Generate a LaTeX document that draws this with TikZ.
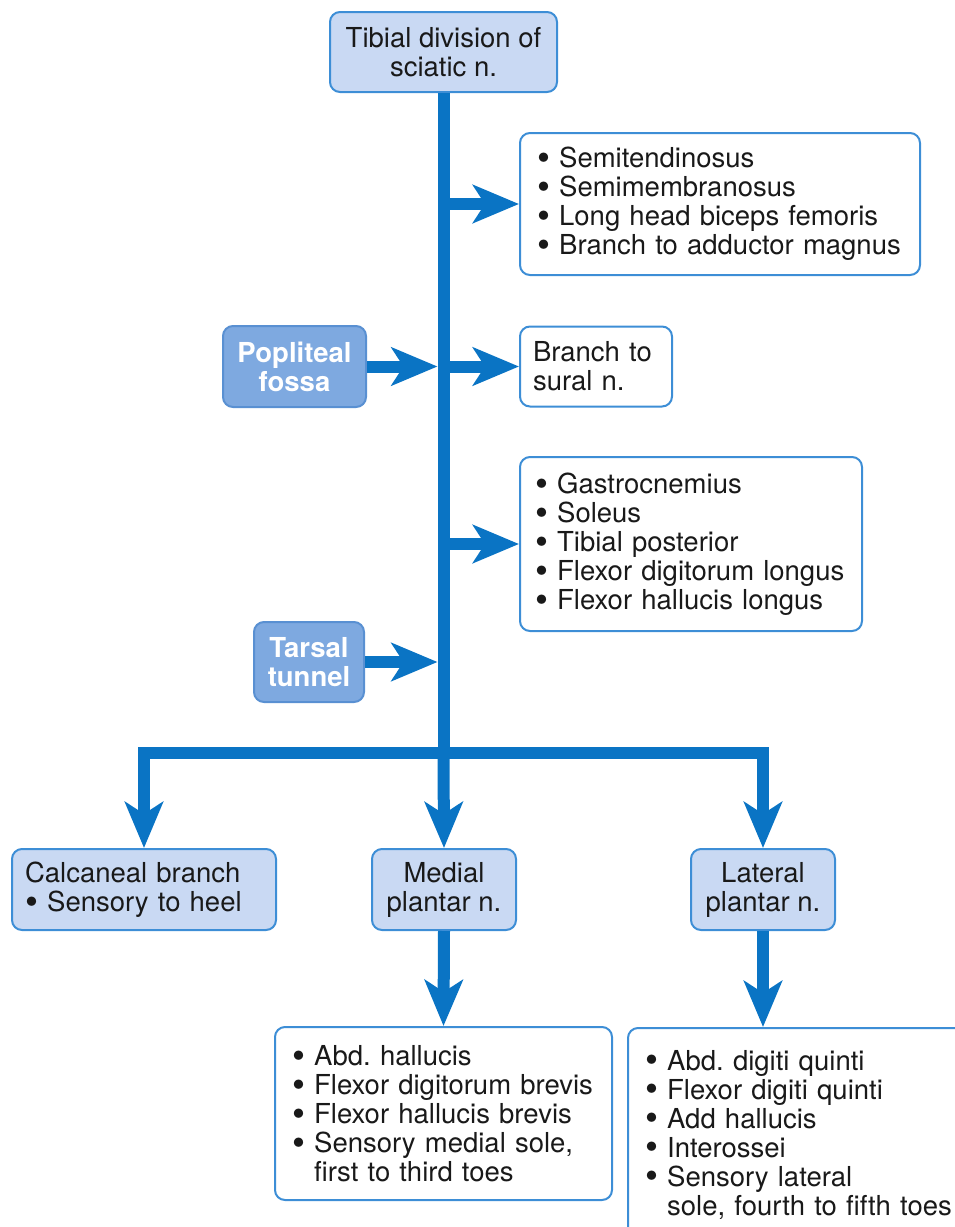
\documentclass[tikz,border=0pt]{standalone}
\usepackage{fontspec}
\setmainfont{TeX Gyre Heros}
\usetikzlibrary{arrows.meta}
\definecolor{nerve}{HTML}{0A74C4}
\definecolor{bordblue}{HTML}{3D8ED6}
\definecolor{lightfill}{HTML}{C9D9F3}
\definecolor{popfill}{HTML}{7EA9E0}
\definecolor{popborder}{HTML}{5990D2}
\newcommand\bl{\raisebox{-0.1em}[0pt][0pt]{\scalebox{1.35}{•}}\ }
\begin{document}
\frenchspacing
\begin{tikzpicture}[x=1pt,y=-1pt,
  every node/.style={font=\fontsize{27.5}{29}\selectfont\frenchspacing, text=black!90},
  arr/.style={draw=nerve, line width=12pt, line join=miter, -{Stealth[length=46pt,width=38pt,inset=12pt]}},
  trunkline/.style={draw=nerve, line width=12pt},
  boxbase/.style={line width=2pt, rounded corners=10pt, inner sep=0pt},
  lightbox/.style={boxbase, draw=bordblue, fill=lightfill, align=center},
  darkbox/.style={boxbase, draw=popborder, fill=popfill, align=center, text=white, font=\fontsize{27.5}{29}\selectfont\bfseries},
  listbox/.style={boxbase, draw=bordblue, fill=white, align=left},
]
\useasboundingbox (0,0) rectangle (955,1227);
\clip (0,0) rectangle (955,1227);

% nodes
\node[lightbox, minimum width=227pt, minimum height=80pt] (top) at (443.5,52) {Tibial division of\\sciatic n.};
\node[listbox, minimum width=400pt, minimum height=142pt, text width=366pt, inner xsep=17pt] (b1) at (720,204)
  {\bl Semitendinosus\\\bl Semimembranosus\\\bl Long head biceps femoris\\\bl Branch to adductor magnus};
\node[darkbox, minimum width=143pt, minimum height=81pt] (pop) at (294.5,366.5) {Popliteal\\fossa};
\node[listbox, minimum width=152pt, minimum height=80pt, text width=126pt, inner xsep=13pt] (sural) at (596,366.5) {Branch to\\sural n.};
\node[listbox, minimum width=342pt, minimum height=174pt, text width=312pt, inner xsep=15pt] (b3) at (691,544)
  {\bl Gastrocnemius\\\bl Soleus\\\bl Tibial posterior\\\bl Flexor digitorum longus\\\bl Flexor hallucis longus};
\node[darkbox, minimum width=110pt, minimum height=80pt] (tars) at (309,662) {Tarsal\\tunnel};
\node[lightbox, minimum width=264pt, minimum height=81pt, align=left, text width=238pt, inner xsep=13pt] (cal) at (144,889.5) {Calcaneal branch\\\bl Sensory to heel};
\node[lightbox, minimum width=144pt, minimum height=81pt] (med) at (444,889.5) {Medial\\plantar n.};
\node[lightbox, minimum width=144pt, minimum height=81pt] (lat) at (763,889.5) {Lateral\\plantar n.};
\node[listbox, minimum width=337pt, minimum height=173pt, text width=303pt, inner xsep=17pt] (mlist) at (443.5,1113.5)
  {\bl Abd. hallucis\\\bl Flexor digitorum brevis\\\bl Flexor hallucis brevis\\\bl Sensory medial sole,\\\hphantom{\bl}first to third toes};
\node[listbox, anchor=north west, minimum width=360pt, minimum height=213pt, text width=326pt, inner xsep=17pt] (llist) at (627,1027)
  {\bl Abd. digiti quinti\\\bl Flexor digiti quinti\\\bl Add hallucis\\\bl Interossei\\\bl Sensory lateral\\\hphantom{\bl}sole, fourth to fifth toes};

% junction coordinates
\coordinate (jB) at (top.south |- 0,753);
\coordinate (pj) at (pop.east -| top.south);
\coordinate (tj) at (tars.east -| top.south);

% connectors
\draw[trunkline] (top.south) -- (jB);
\draw[arr] (jB) -- (med.north);
\draw[arr] (top.south |- b1.west) -- (b1.west);
\draw[arr] (pop.east) -- ([xshift=-6pt]pj);
\draw[arr] (top.south |- sural.west) -- (sural.west);
\draw[arr] (top.south |- b3.west) -- (b3.west);
\draw[arr] (tars.east) -- ([xshift=-6pt]tj);
\draw[arr] (jB) -| (cal.north);
\draw[arr] (jB) -| (lat.north);
\draw[arr] (med.south) -- (mlist.north);
\draw[arr] (lat.south) -- (lat.south |- llist.north);
\end{tikzpicture}
\end{document}
